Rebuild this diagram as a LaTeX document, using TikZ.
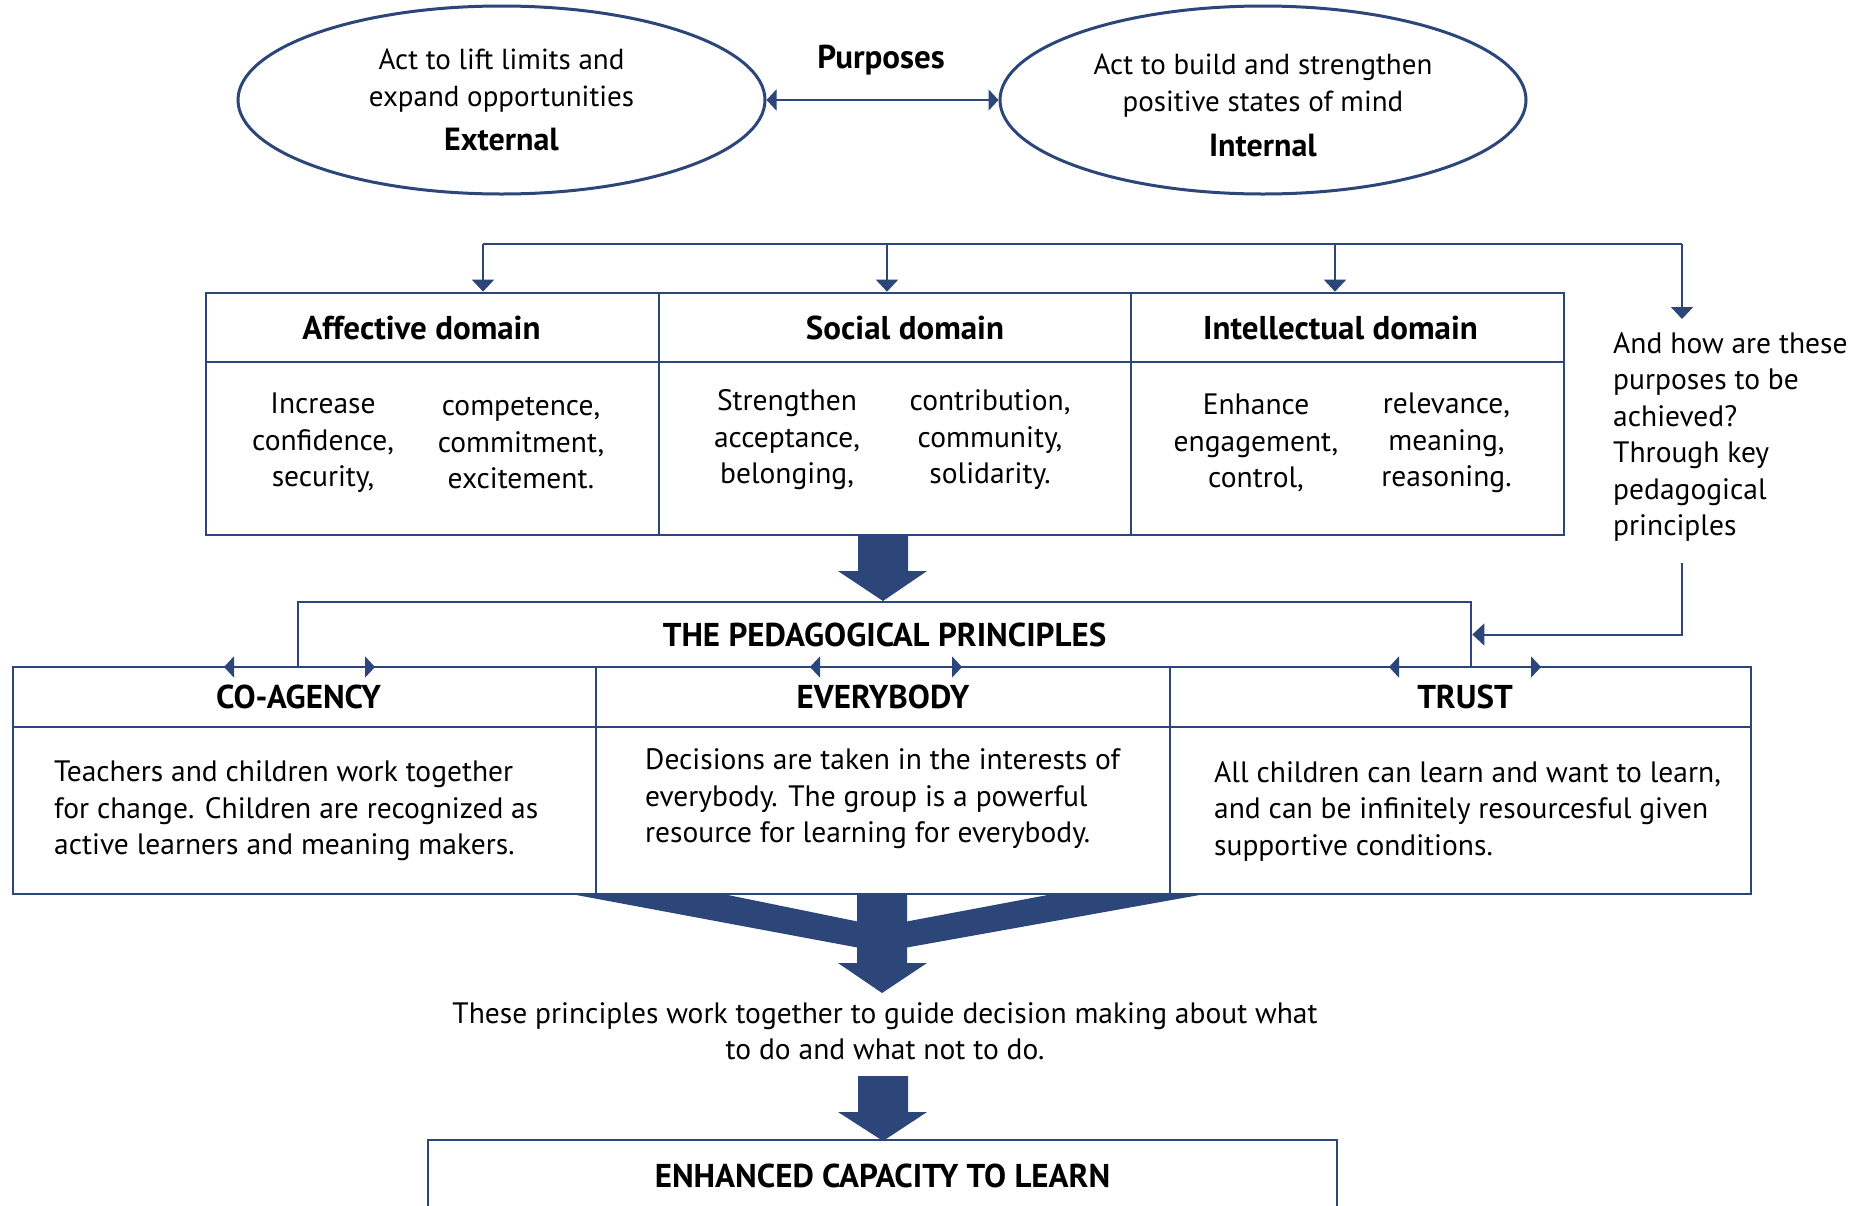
\documentclass[tikz,border=0pt]{standalone}
\usepackage{fontspec}
\setmainfont{PT Sans}
\usetikzlibrary{arrows.meta,shapes.geometric}
\definecolor{dblue}{RGB}{44,70,122}
\begin{document}
\begin{tikzpicture}[x=1pt,y=-1pt,
  txt/.style={font=\fontsize{29.5}{36.5}\selectfont, inner sep=0pt, text=black},
  hd/.style={font=\fontsize{33}{36}\selectfont\bfseries},
  cell/.style={draw=dblue, line width=2.7pt, rectangle, inner sep=0pt},
  oval/.style={draw=dblue, line width=3pt, ellipse, inner sep=0pt, align=center,
    font=\fontsize{29}{37}\selectfont},
  conn/.style={draw=dblue, line width=2pt},
  arr/.style={conn, -{Triangle[width=22pt,length=12pt]}},
  darr/.style={conn, {Triangle[width=21pt,length=10pt]}-{Triangle[width=21pt,length=10pt]}},
  fat/.style={fill=dblue}
]
\clip (0,0) rectangle (1865,1205);
\fill[white] (0,0) rectangle (1865,1205);

% purposes
\node[oval, minimum width=527pt, minimum height=188pt] (ext) at (501.5,100)
  {Act to lift limits and\\expand opportunities\\[7pt]{\fontsize{32}{36}\selectfont\bfseries External}};
\node[oval, minimum width=526pt, minimum height=188pt] (int) at (1263,100)
  {\rule{0pt}{31pt}Act to build and strengthen\\positive states of mind\\[8pt]{\fontsize{32}{36}\selectfont\bfseries Internal}};
\node[txt, hd] (purp) at (881,60) {Purposes};
\draw[darr] (ext.east) -- (int.west);

% distribution line
\coordinate (d1) at (483,244);
\coordinate (d2) at (887,244);
\coordinate (d3) at (1335,244);
\coordinate (d4) at (1682,244);
\draw[conn] (d1) -- (d4);

% domain table
\begin{scope}[every node/.append style={cell, font=\fontsize{33}{36}\selectfont\bfseries}]
\node[minimum width=453pt, minimum height=69pt] (affH) at (432.5,327.5) {Affective domain\hspace*{22pt}};
\node[minimum width=472pt, minimum height=69pt] (socH) at (895,327.5) {\hspace*{20pt}Social domain};
\node[minimum width=433pt, minimum height=69pt] (intH) at (1347.5,327.5) {Intellectual domain\hspace*{14pt}};
\node[minimum width=453pt, minimum height=173pt] (affB) at (432.5,448.5) {};
\node[minimum width=472pt, minimum height=173pt] (socB) at (895,448.5) {};
\node[minimum width=433pt, minimum height=173pt] (intB) at (1347.5,448.5) {};
\end{scope}
\draw[arr] (d1) -- (d1 |- affH.north);
\draw[arr] (d2) -- (d2 |- socH.north);
\draw[arr] (d3) -- (d3 |- intH.north);

\node[txt, align=center] (aff1) at (323,443) {Increase\\confidence,\\security,};
\node[txt, align=center] (aff2) at (521,443) {competence,\\commitment,\\excitement.};
\node[txt, align=center] (soc1) at (787,440) {Strengthen\\acceptance,\\belonging,};
\node[txt, align=center] (soc2) at (990,440) {contribution,\\community,\\solidarity.};
\node[txt, align=center] (int1) at (1256,443) {Enhance\\engagement,\\control,};
\node[txt, align=center] (int2) at (1446.5,443) {relevance,\\meaning,\\reasoning.};

% side question
\node[txt, align=left, anchor=west] (how) at (1613,437)
  {And how are these\\purposes to be\\achieved?\\Through key\\pedagogical\\principles};
\coordinate (h1) at (1682,319);
\coordinate (h2) at (1682,563);
\draw[arr] (d4) -- (h1);

% fat arrow 1
\fill[fat] (858,535) -- (908,535) -- (908,571) -- (927,571) -- (883,601) -- (838,571) -- (858,571) -- cycle;

% principles
\node[cell, minimum width=1173pt, minimum height=65pt, font=\fontsize{33}{36}\selectfont\bfseries]
  (ppf) at (884.5,634.5) {THE PEDAGOGICAL PRINCIPLES};
\draw[arr] (h2) |- (ppf.east);

\begin{scope}[every node/.append style={cell, font=\fontsize{33}{36}\selectfont\bfseries}]
\node[minimum width=583pt, minimum height=60pt] (coH) at (304.5,697) {\raisebox{-2pt}{CO-AGENCY}\hspace*{12pt}};
\node[minimum width=574pt, minimum height=60pt] (evH) at (883,697) {\raisebox{-2pt}{EVERYBODY}};
\node[minimum width=581pt, minimum height=60pt] (trH) at (1460.5,697) {\hspace*{9pt}\raisebox{-2pt}{TRUST}};
\node[minimum width=583pt, minimum height=167pt] (coB) at (304.5,810.5) {};
\node[minimum width=574pt, minimum height=167pt] (evB) at (883,810.5) {};
\node[minimum width=581pt, minimum height=167pt] (trB) at (1460.5,810.5) {};
\end{scope}
\draw[darr] (224,667) -- (375,667);
\draw[darr] (810,667) -- (962,667);
\draw[darr] (1389,667) -- (1541,667);

\node[txt, align=left, anchor=west] (coT) at (54,811)
  {Teachers and children work together\\for change. Children are recognized as\\active learners and meaning makers.};
\node[txt, align=left, anchor=west] (evT) at (645,799)
  {Decisions are taken in the interests of\\everybody. The group is a powerful\\resource for learning for everybody.};
\node[txt, align=left, anchor=west] (trT) at (1214,811)
  {All children can learn and want to learn,\\and can be infinitely resourcesful given\\supportive conditions.};

% funnel arrows
\fill[fat] (571,894) -- (723,894) -- (860,922) -- (860,948) -- cycle;
\fill[fat] (1053,894) -- (1205,894) -- (904,948) -- (904,922) -- cycle;
\fill[fat] (857,894) -- (907,894) -- (907,963) -- (927,963) -- (882,993) -- (838,963) -- (857,963) -- cycle;

\node[txt, align=center] (guide) at (885,1031)
  {These principles work together to guide decision making about what\\to do and what not to do.};

\fill[fat] (858,1076) -- (908,1076) -- (908,1112) -- (927,1112) -- (883,1141) -- (838,1112) -- (858,1112) -- cycle;

\node[cell, minimum width=909pt, minimum height=72pt, font=\fontsize{33}{36}\selectfont\bfseries]
  (ecl) at (882.5,1176) {ENHANCED CAPACITY TO LEARN};
\end{tikzpicture}
\end{document}
